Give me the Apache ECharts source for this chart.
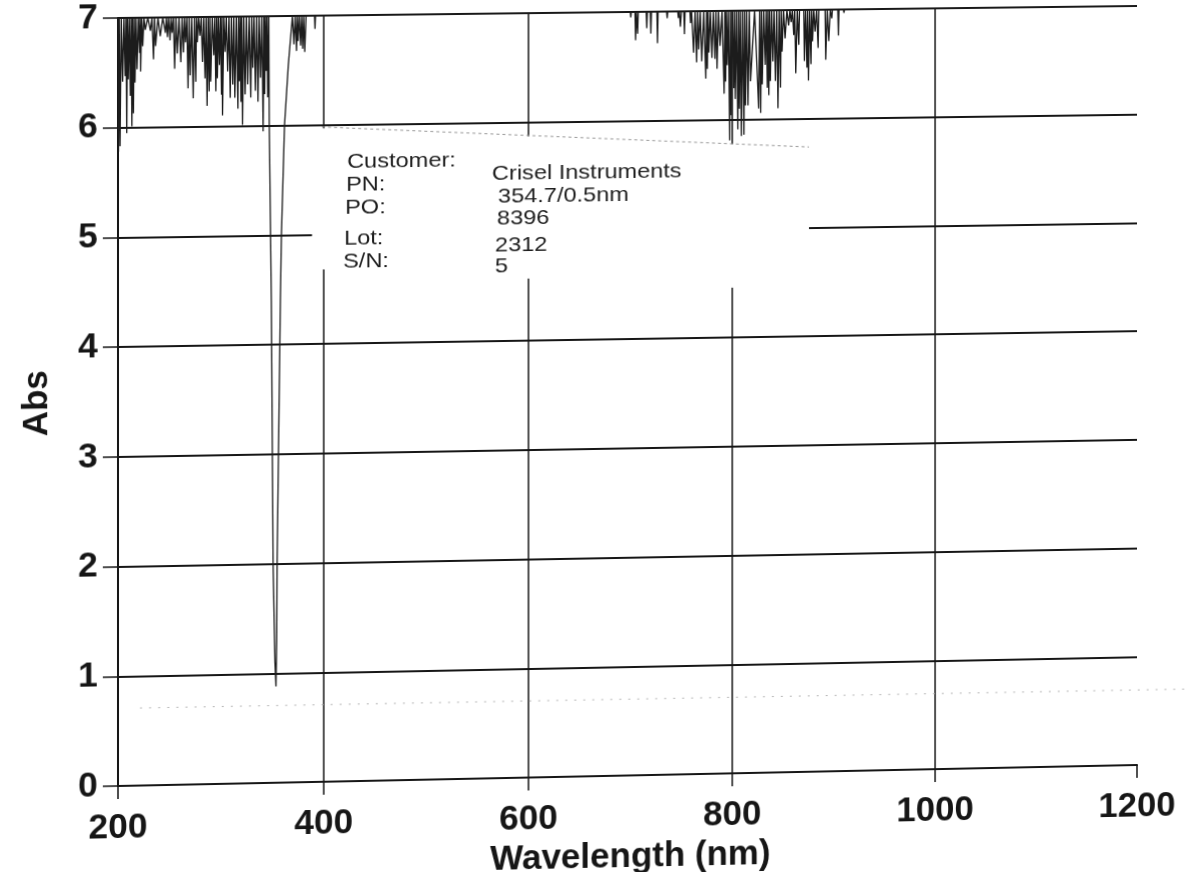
<!DOCTYPE html>
<html>
<head>
<meta charset="utf-8">
<script src="https://cdn.jsdelivr.net/npm/echarts@6/dist/echarts.min.js"></script>
<style>
  html, body { margin: 0; padding: 0; background: #ffffff; width: 1191px; height: 872px; overflow: hidden; }
  #wrap { position: relative; width: 1191px; height: 872px; overflow: hidden; background: #ffffff; }
  #chart { position: absolute; left: 0; top: 0; width: 1191px; height: 900px; transform-origin: 0 0; }
</style>
</head>
<body>
<div id="wrap"><div id="chart"></div></div>
<script>
// ---- data ----
const xTicks = [200, 400, 600, 800, 1000, 1200];
const yTicks = [0, 1, 2, 3, 4, 5, 6, 7];

// wavelength (nm) of each plotted point
const wavelength = [
  200, 200.5, 201.2, 202, 203.2, 204.5, 205.8, 207, 207.8, 208.5, 209.2, 210, 211, 212, 212.8, 213.5,
  214.2, 215, 215.8, 216.5, 217.5, 218.5, 219.8, 221, 221.5, 222, 223, 224, 225.2, 226.5, 229, 231.5,
  233, 234.5, 235.5, 236.5, 238.8, 241, 243.5, 246, 247, 248, 249.2, 250.5, 251.5, 252.5, 253.8, 255,
  256.2, 257.5, 259.2, 261, 262.2, 263.5, 264.5, 265.5, 266.8, 268, 269, 270, 271.5, 273, 274.2, 275.5,
  276.2, 277, 278.2, 279.5, 280.8, 282, 283.2, 284.5, 285.5, 286.5, 287.5, 288.5, 289.2, 290, 291.5, 293,
  294, 295, 295.8, 296.5, 297.5, 298.5, 299.5, 300.5, 301, 301.5, 302.8, 304, 305.2, 306.5, 307.8, 309,
  310.2, 311.5, 312.5, 313.5, 315, 316.5, 317.2, 318, 318.8, 319.5, 320.2, 321, 322.2, 323.5, 324.8, 326,
  327.5, 329, 330, 331, 332.2, 333.5, 334.8, 336, 337.2, 338.5, 339.8, 341, 341.8, 342.5, 343.2, 344,
  344.8, 345.5, 346.5,
  347, 349, 350.7, 352.5, 353.5, 354.2, 354.6, 357.8, 358.8, 361.8, 365.5, 369.5,
  371, 372.2, 373.5, 374.2, 375, 376.2, 377.5, 378.5, 379.5, 380.5, 381.5, 382.8, 391, 391.5, 392,
  699.8, 700.3, 700.8, 704.4, 705, 705.8, 706.4, 707, 707.6, 715.4, 716, 716.6, 719.4, 720, 720.6,
  725.9, 726.5, 727.1, 735.4, 736, 736.6, 746.4, 747, 748, 749, 750, 752.4, 753, 753.6, 758.4, 759, 760,
  762, 763.5, 765, 766, 767, 768.5, 770, 772, 774, 774.8, 775.5, 776.2, 777, 778.5, 780, 781.5, 783, 784,
  785, 786.5, 788, 790, 792, 792.8, 793.5, 794.2, 795, 796.2, 797.5, 798.2, 799, 800.2, 801.5, 802.2,
  803, 804.2, 805.5, 806.2, 807, 808, 809, 810.2, 811.5, 812.2, 813, 814.2, 815.5, 816.8, 818, 822,
  826, 827, 828, 828.8, 829.5, 831, 832.5, 833.5, 834.5, 835.2, 836, 836.8, 837.5, 838.8, 840, 841.2,
  842.5, 843.8, 845, 846.2, 847.5, 848.2, 849, 850.5, 852, 853.8, 855.5, 856.8, 858, 859.2, 860.5, 861.5,
  862.5, 864, 865.5, 866.2, 870.4, 871, 872.2, 873.5, 874.2, 875, 876.2, 877.5, 878.2, 879, 880.2, 881.5,
  883, 884.5, 885.2, 891.4, 892, 893.5, 895, 896.5, 898, 898.6, 903.9, 904.5, 905.1, 909.4, 910, 910.6,
  1200
];

// absorbance at each wavelength above (7 = top of scale)
const absorbance = [
  7, 5.78, 7, 5.83, 7, 6.42, 7, 6.47, 7, 5.95, 7, 6.44, 7, 6.29, 7, 6.01,
  7, 6.13, 7, 6.41, 7, 6.53, 7, 6.68, 7, 6.51, 7, 6.74, 7, 6.89, 7, 6.88,
  7, 6.62, 7, 6.74, 7, 6.83, 7, 6.86, 7, 6.82, 7, 6.79, 7, 6.86, 7, 6.53,
  7, 6.67, 7, 6.59, 7, 6.68, 7, 6.77, 7, 6.35, 7, 6.47, 7, 6.26, 7, 6.41,
  7, 6.77, 7, 6.83, 7, 6.59, 7, 6.44, 7, 6.19, 7, 6.32, 7, 6.41, 7, 6.65,
  7, 6.32, 7, 6.44, 7, 6.56, 7, 6.29, 7, 6.10, 7, 6.68, 7, 6.50, 7, 6.26,
  7, 6.38, 7, 6.26, 7, 6.16, 7, 6.41, 7, 6.22, 7, 6.01, 7, 6.29, 7, 6.38,
  7, 6.26, 7, 6.53, 7, 6.32, 7, 6.22, 7, 6.44, 7, 5.95, 7, 6.29, 7, 6.50,
  7, 6.26, 7,
  6.0, 4.4, 2.0, 1.1, 0.88, 1.3, 2.0, 4.4, 5.0, 6.0, 6.55, 7,
  6.74, 7, 6.68, 7, 6.77, 7, 6.73, 7, 6.70, 7, 6.67, 7, 7, 6.88, 7,
  7, 6.95, 7, 7, 6.74, 7, 7, 6.80, 7, 7, 6.85, 7, 7, 6.80, 7,
  7, 6.71, 7, 7, 6.94, 7, 7, 6.94, 7, 6.86, 7, 7, 6.79, 7, 7, 6.89, 7,
  6.62, 7, 6.53, 7, 6.65, 7, 6.54, 7, 6.38, 7, 6.47, 7, 6.62, 7, 6.57, 7, 6.56, 7,
  6.47, 7, 6.68, 7, 6.24, 7, 6.35, 7, 6.50, 7, 5.81, 7, 6.04, 7, 6.29, 7,
  6.19, 7, 5.91, 7, 6.10, 7, 5.85, 7, 5.86, 7, 6.13, 7, 6.13, 7, 6.35, 7,
  6.10, 7, 6.06, 7, 6.32, 7, 6.50, 7, 6.29, 7, 6.22, 7, 6.35, 7, 6.53, 7,
  6.35, 7, 6.10, 7, 6.29, 7, 6.62, 7, 6.74, 7, 6.86, 7, 6.89, 7, 6.77, 7,
  6.42, 7, 6.68, 7, 7, 6.53, 7, 6.47, 7, 6.35, 7, 6.50, 7, 6.71, 7, 6.80,
  7, 6.65, 7, 7, 6.54, 7, 6.71, 7, 6.92, 7, 7, 6.76, 7, 7, 6.97, 7,
  7
];

const infoLabels = ['Customer:', 'PN:', 'PO:', 'Lot:', 'S/N:'];
const infoValues = ['Crisel Instruments', '354.7/0.5nm', '8396', '2312', '5'];

// ---- scan distortion: map the plot-area corners onto where they sit in the scanned page ----
const srcCorners = [[118, 18], [1138, 18], [118, 786], [1138, 786]];
const dstCorners = [[118, 18], [1137, 6], [118, 786], [1137, 765]];

function solveHomography(src, dst) {
  const A = [], b = [];
  for (let i = 0; i < 4; i++) {
    const [x, y] = src[i], [X, Y] = dst[i];
    A.push([x, y, 1, 0, 0, 0, -x * X, -y * X]); b.push(X);
    A.push([0, 0, 0, x, y, 1, -x * Y, -y * Y]); b.push(Y);
  }
  const n = 8;
  for (let c = 0; c < n; c++) {
    let p = c;
    for (let r = c + 1; r < n; r++) if (Math.abs(A[r][c]) > Math.abs(A[p][c])) p = r;
    [A[c], A[p]] = [A[p], A[c]]; [b[c], b[p]] = [b[p], b[c]];
    for (let r = 0; r < n; r++) {
      if (r === c) continue;
      const f = A[r][c] / A[c][c];
      for (let k = c; k < n; k++) A[r][k] -= f * A[c][k];
      b[r] -= f * b[c];
    }
  }
  const h = b.map((v, i) => v / A[i][i]);
  return [[h[0], h[1], h[2]], [h[3], h[4], h[5]], [h[6], h[7], 1]];
}
function invert3(m) {
  const [a, b, c] = m[0], [d, e, f] = m[1], [g, h, i] = m[2];
  const A = e * i - f * h, B = -(d * i - f * g), C = d * h - e * g;
  const det = a * A + b * B + c * C;
  return [
    [A / det, -(b * i - c * h) / det, (b * f - c * e) / det],
    [B / det, (a * i - c * g) / det, -(a * f - c * d) / det],
    [C / det, -(a * h - b * g) / det, (a * e - b * d) / det]
  ];
}
const H = solveHomography(srcCorners, dstCorners);
const Hinv = invert3(H);
function toSrc(p) {
  const [x, y] = p;
  const w = Hinv[2][0] * x + Hinv[2][1] * y + Hinv[2][2];
  return [(Hinv[0][0] * x + Hinv[0][1] * y + Hinv[0][2]) / w, (Hinv[1][0] * x + Hinv[1][1] * y + Hinv[1][2]) / w];
}
const el = document.getElementById('chart');
el.style.transform = 'matrix3d(' + [H[0][0], H[1][0], 0, H[2][0], H[0][1], H[1][1], 0, H[2][1], 0, 0, 1, 0, H[0][2], H[1][2], 0, H[2][2]].join(',') + ')';

// ---- chart ----
const FONT = '"Liberation Sans", Arial, sans-serif';
const INK = '#161616';
const chart = echarts.init(el, null, { renderer: 'canvas', width: 1191, height: 900 });

const spectrum = wavelength.map((w, i) => [w, absorbance[i]]);

// label box layout, in page pixels (left edge, vertical centre)
const labelPos = [[347, 162], [346, 185], [345, 208], [344, 239], [343, 262]];
const valuePos = [[492, 174], [498, 197], [497, 219], [495, 246], [495, 267]];
const boxPoly = [[312, 128], [809, 147], [809, 291], [312, 269]];

const graphics = [
  { type: 'polygon', z: 1, silent: true,
    shape: { points: boxPoly.map(toSrc) },
    style: { fill: '#ffffff' } },
  { type: 'line', z: 1, silent: true,
    shape: (() => { const a = toSrc([322, 127]), c = toSrc([809, 147]); return { x1: a[0], y1: a[1], x2: c[0], y2: c[1] }; })(),
    style: { stroke: '#9a9a9a', lineWidth: 1, lineDash: [3, 3] } },
  { type: 'line', z: 1, silent: true,
    shape: (() => { const a = toSrc([140, 708]), c = toSrc([1191, 689]); return { x1: a[0], y1: a[1], x2: c[0], y2: c[1] }; })(),
    style: { stroke: '#b5b5b5', lineWidth: 1, lineDash: [2, 7] } }
];
function addText(t, pos) {
  const p = toSrc(pos);
  graphics.push({ type: 'text', z: 3, silent: true, x: p[0], y: p[1], scaleX: 1.12,
    style: { text: t, fontSize: 21, fontFamily: FONT, fill: '#1e1e1e', align: 'left', verticalAlign: 'middle' } });
}
infoLabels.forEach((t, i) => { addText(t, labelPos[i]); addText(infoValues[i], valuePos[i]); });

chart.setOption({
  animation: false,
  backgroundColor: '#ffffff',
  grid: { left: 118, right: 53, top: 18, bottom: 114, containLabel: false, outerBoundsMode: 'none' },
  xAxis: {
    type: 'value', min: xTicks[0], max: xTicks[xTicks.length - 1], interval: 200,
    name: 'Wavelength (nm)', nameLocation: 'middle', nameGap: 46,
    nameTextStyle: { fontSize: 35, fontWeight: 'bold', fontFamily: FONT, color: INK },
    axisLine: { show: true, onZero: false, lineStyle: { color: INK, width: 2 } },
    axisTick: { show: true, inside: false, length: 13, lineStyle: { color: INK, width: 1.5 } },
    axisLabel: { fontSize: 35, fontWeight: 'bold', fontFamily: FONT, color: INK, margin: 25,
      formatter: v => String(v) },
    splitLine: { show: true, showMinLine: false, showMaxLine: false, lineStyle: { color: INK, width: 1.5 } }
  },
  yAxis: {
    type: 'value', min: yTicks[0], max: yTicks[yTicks.length - 1], interval: 1,
    name: 'Abs', nameLocation: 'middle', nameGap: 62,
    nameTextStyle: { fontSize: 35, fontWeight: 'bold', fontFamily: FONT, color: INK },
    axisLine: { show: true, onZero: false, lineStyle: { color: INK, width: 2 } },
    axisTick: { show: true, inside: false, length: 15, lineStyle: { color: INK, width: 1.5 } },
    axisLabel: { fontSize: 35, fontWeight: 'bold', fontFamily: FONT, color: INK, margin: 20,
      formatter: v => String(v) },
    splitLine: { show: true, lineStyle: { color: INK, width: 1.8 } }
  },
  series: [{
    type: 'line', data: spectrum, showSymbol: false, clip: true, z: 2,
    lineStyle: { color: '#1c1c1c', width: 1.3 }
  }],
  graphic: { elements: graphics }
});
</script>
</body>
</html>
